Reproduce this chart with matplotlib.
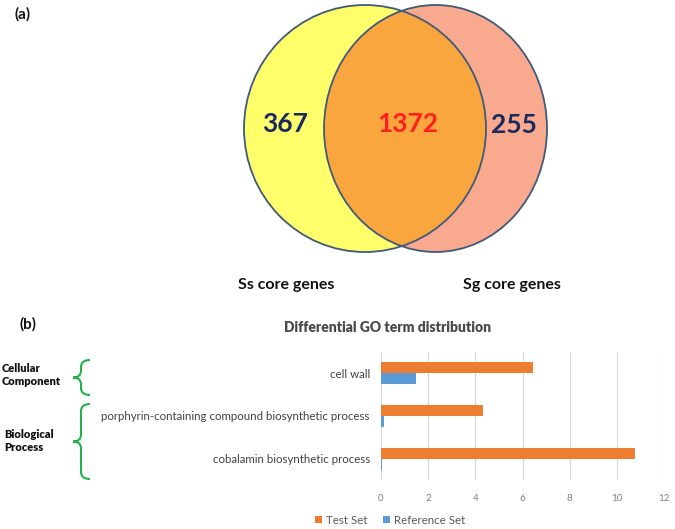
import matplotlib
matplotlib.use("Agg")
import matplotlib.pyplot as plt
from matplotlib.patches import Ellipse, PathPatch
from matplotlib.path import Path
import numpy as np

# ---- data ----
venn_counts = [367, 1372, 255]          # Ss only, shared, Sg only
venn_labels = ["Ss core genes", "Sg core genes"]
go_terms = ["cell wall",
            "porphyrin-containing compound biosynthetic process",
            "cobalamin biosynthetic process"]
test_set = [6.46, 4.31, 10.77]
reference_set = [1.48, 0.11, 0.06]
x_ticks = [0, 2, 4, 6, 8, 10, 12]
groups = [("Cellular\nComponent", 0, 0), ("Biological\nProcess", 1, 2)]

W, H = 675, 529
fig = plt.figure(figsize=(W / 100, H / 100), dpi=100)
plt.rcParams['font.family'] = ['Lato', 'DejaVu Sans']

# overlay axes in pixel coordinates
ov = fig.add_axes([0, 0, 1, 1])
ov.set_xlim(0, W)
ov.set_ylim(H, 0)
ov.axis('off')

# ---- Venn ----
edge = '#41597a'
left = Ellipse((365, 128.5), 242, 247, facecolor='#ffff6b', edgecolor='none', zorder=1)
right = Ellipse((435.5, 128.5), 223, 247, facecolor='#f9a98e', edgecolor='none', zorder=1)
ov.add_patch(left)
ov.add_patch(right)
inter = Ellipse((435.5, 128.5), 223, 247, facecolor='#f9a63e', edgecolor='none', zorder=2)
ov.add_patch(inter)
inter.set_clip_path(left)
for e in [Ellipse((365, 128.5), 242, 247), Ellipse((435.5, 128.5), 223, 247)]:
    e.set_facecolor('none'); e.set_edgecolor(edge); e.set_linewidth(1.3); e.set_zorder(3)
    ov.add_patch(e)

navy = '#1b2a5e'
ov.text(285, 124, str(venn_counts[0]), ha='center', va='center', fontsize=19,
        fontweight='bold', color=navy, zorder=5)
ov.text(408, 124, str(venn_counts[1]), ha='center', va='center', fontsize=19,
        fontweight='bold', color='#ff1f1f', zorder=5)
ov.text(514, 125, str(venn_counts[2]), ha='center', va='center', fontsize=19,
        fontweight='bold', color=navy, zorder=5)
ov.text(286, 285, venn_labels[0], ha='center', va='center', fontsize=11.5,
        fontweight='bold', color='#111111')
ov.text(512, 285, venn_labels[1], ha='center', va='center', fontsize=11.5,
        fontweight='bold', color='#111111')

ov.text(23, 14, "(a)", ha='center', va='center', fontsize=11, fontweight='bold', color='#111111')
ov.text(28, 324, "(b)", ha='center', va='center', fontsize=11, fontweight='bold', color='#111111')

# ---- bar chart ----
ax_left, ax_right, ax_top, ax_bot = 381, 664, 352, 480
ax = fig.add_axes([ax_left / W, 1 - ax_bot / H, (ax_right - ax_left) / W, (ax_bot - ax_top) / H])
y = np.arange(len(go_terms))
bh = 0.256
orange = '#ed7d31'
blue = '#5b9bd5'
ax.barh(y - bh / 2, test_set, height=bh, color=orange, label='Test Set', zorder=3)
ax.barh(y + bh / 2, reference_set, height=bh, color=blue, label='Reference Set', zorder=3)
ax.set_xlim(0, 12)
ax.set_ylim(2.5, -0.5)
ax.set_xticks(x_ticks)
ax.set_xticklabels([str(t) for t in x_ticks], fontsize=7, color='#7f7f7f')
ax.set_yticks(y)
ax.set_yticklabels(go_terms, fontsize=8.3, color='#404040')
ax.tick_params(axis='y', length=0, pad=8)
ax.tick_params(axis='x', length=0, pad=10)
ax.grid(axis='x', color='#d9d9d9', linewidth=0.8, zorder=0)
for s in ax.spines.values():
    s.set_visible(False)
ax.set_facecolor('none')

fig.text(388 / W, 1 - 328 / H, "Differential GO term distribution", ha='center', va='center',
         fontsize=10, fontweight='heavy', color='#4a4a4a')

leg = fig.legend(loc='center', bbox_to_anchor=(390 / W, 1 - 520 / H), ncol=2, frameon=False,
                 fontsize=8.3, handlelength=0.6, handleheight=0.6, handletextpad=0.4,
                 columnspacing=1.3, borderaxespad=0)
for t in leg.get_texts():
    t.set_color('#595959')

# ---- group labels and braces ----
ov.text(2, 375, groups[0][0], ha='left', va='center', fontsize=8, fontweight='heavy',
        color='#111111', linespacing=1.3)
ov.text(4, 441, groups[1][0], ha='left', va='center', fontsize=8, fontweight='heavy',
        color='#111111', linespacing=1.3)


def brace(y0, y1, xe=90, xm=81, xt=73):
    mid = (y0 + y1) / 2
    c = 7
    verts = [(xe, y0), (xm, y0), (xm, y0 + c), (xm, y0 + c),
             (xm, mid - c), (xm, mid - c), (xm, mid), (xt, mid),
             (xm, mid), (xm, mid + c), (xm, mid + c),
             (xm, y1 - c), (xm, y1 - c), (xm, y1), (xe, y1)]
    codes = [Path.MOVETO, Path.CURVE3, Path.CURVE3, Path.LINETO,
             Path.LINETO, Path.LINETO, Path.CURVE3, Path.CURVE3,
             Path.CURVE3, Path.CURVE3, Path.LINETO,
             Path.LINETO, Path.LINETO, Path.CURVE3, Path.CURVE3]
    p = PathPatch(Path(verts, codes), facecolor='none', edgecolor='#22b14c', linewidth=1.5)
    ov.add_patch(p)


brace(360, 395)
brace(404, 479)

fig.savefig('out.png', dpi=100)
